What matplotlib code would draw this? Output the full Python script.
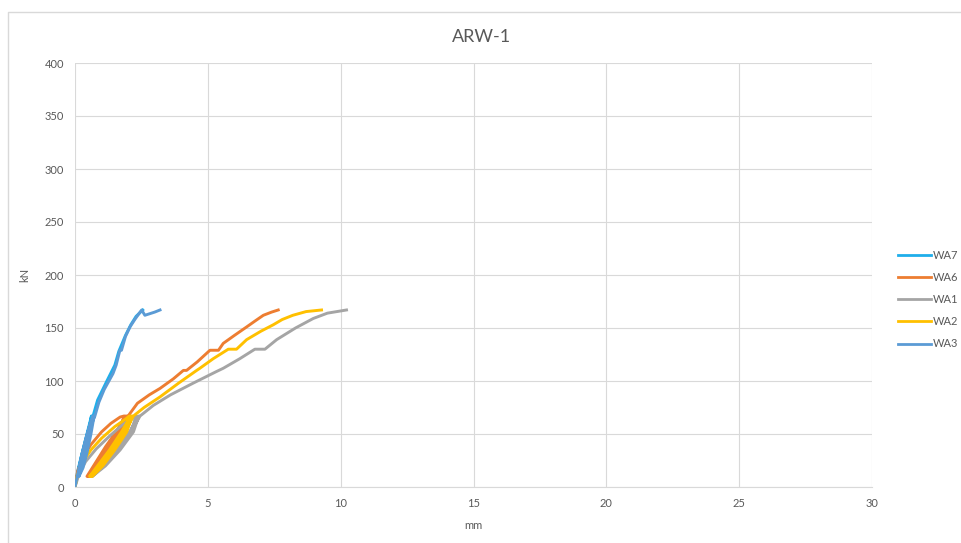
import matplotlib
matplotlib.use("Agg")
import matplotlib.pyplot as plt
from matplotlib.lines import Line2D

plt.rcParams['font.family'] = ['Lato', 'DejaVu Sans']

title = "ARW-1"
x_label = "mm"
y_label = "kN"
x_ticks = [0, 5, 10, 15, 20, 25, 30]
y_ticks = [0, 50, 100, 150, 200, 250, 300, 350, 400]

# Displacement (mm) / load (kN) histories, including unload-reload cycles
wa7_x = [0, 0.1, 0.3, 0.5, 0.62,
         0.5, 0.35, 0.2, 0.08,
         0.25, 0.42, 0.55, 0.66,
         0.55, 0.4, 0.25, 0.1,
         0.28, 0.45, 0.58, 0.68,
         0.85, 1.2, 1.5, 1.65, 1.9, 2.1, 2.3, 2.55]
wa7_y = [0, 15, 35, 55, 67,
         50, 32, 18, 10,
         30, 46, 58, 67,
         50, 32, 18, 10,
         30, 46, 58, 67,
         82, 100, 115, 128, 143, 153, 161, 167]

wa6_x = [0, 0.1, 0.3, 0.6, 1.0, 1.35, 1.7, 1.85,
         1.7, 1.35, 0.9, 0.45,
         0.75, 1.15, 1.55, 1.9,
         1.75, 1.4, 0.95, 0.5,
         0.85, 1.2, 1.6, 1.95,
         1.8, 1.45, 1.0, 0.55,
         0.9, 1.3, 1.65, 2.0,
         2.35, 2.8, 3.2, 3.7, 4.08, 4.2, 4.6, 5.08, 5.4, 5.58,
         6.0, 6.46, 6.8, 7.09, 7.4, 7.65]
wa6_y = [0, 15, 28, 40, 52, 60, 66, 67,
         55, 38, 22, 10,
         22, 38, 52, 67,
         55, 38, 22, 10,
         24, 38, 54, 67,
         55, 38, 22, 10,
         24, 40, 55, 67,
         79, 87, 93, 102, 110, 110, 118, 129, 129, 135.5,
         143, 151, 157, 162, 165, 167]

wa1_x = [0, 0.15, 0.4, 0.8, 1.3, 1.8, 2.3,
         2.1, 1.6, 1.1, 0.6,
         1.0, 1.55, 2.05, 2.4,
         2.2, 1.7, 1.15, 0.65,
         1.05, 1.6, 2.1, 2.45,
         2.95, 3.6, 4.45, 5.33, 5.58, 6.2, 6.77, 7.15, 7.59,
         8.3, 8.97, 9.5, 10.22]
wa1_y = [0, 12, 24, 36, 48, 59, 67,
         52, 35, 20, 10,
         20, 36, 52, 67,
         52, 35, 20, 10,
         20, 36, 52, 67,
         77, 87, 98, 109, 112, 121, 130, 130, 139,
         150, 159, 164, 167]

wa2_x = [0, 0.1, 0.3, 0.6, 1.0, 1.5, 1.9, 2.05,
         1.85, 1.4, 0.95, 0.55,
         0.85, 1.3, 1.75, 2.1,
         1.9, 1.45, 1.0, 0.6,
         0.9, 1.35, 1.8, 2.15,
         1.95, 1.5, 1.05, 0.65,
         0.95, 1.45, 1.9, 2.2,
         2.6, 3.2, 3.9, 4.58, 4.7, 5.2, 5.77, 6.08, 6.46,
         7.0, 7.46, 7.8, 8.2, 8.7, 9.28]
wa2_y = [0, 12, 24, 35, 46, 57, 64, 67,
         52, 35, 20, 10,
         20, 35, 52, 67,
         52, 35, 20, 10,
         20, 35, 52, 67,
         52, 35, 20, 10,
         20, 36, 53, 67,
         75, 85, 98, 110, 112, 121, 130, 130, 139,
         147, 153, 158, 162, 165.5, 167]

wa3_x = [0, 0.1, 0.25, 0.4, 0.55, 0.68,
         0.55, 0.4, 0.25, 0.12,
         0.3, 0.45, 0.6, 0.72,
         0.6, 0.45, 0.3, 0.15,
         0.33, 0.5, 0.63, 0.75,
         0.9, 1.1, 1.43, 1.55, 1.69, 1.75, 1.9, 2.07, 2.25, 2.45,
         2.51, 2.63, 3.0, 3.2]
wa3_y = [0, 12, 30, 45, 58, 67,
         50, 32, 18, 10,
         30, 46, 60, 67,
         50, 32, 18, 10,
         30, 47, 60, 67,
         80, 92, 107, 115, 129, 129, 142, 151, 158, 165,
         167, 162, 165, 167]

series_names = ["WA7", "WA6", "WA1", "WA2", "WA3"]
series_x = [wa7_x, wa6_x, wa1_x, wa2_x, wa3_x]
series_y = [wa7_y, wa6_y, wa1_y, wa2_y, wa3_y]
series_colors = ["#1FAEEA", "#ED7D31", "#A5A5A5", "#FFC000", "#5B9BD5"]

W, H = 962, 543
fig = plt.figure(figsize=(W / 100, H / 100), dpi=100)
fig.patch.set_facecolor("white")

# outer chart frame
frame = Line2D([8 / W, 8 / W, 1.0], [0.0, 1 - 12 / H, 1 - 12 / H],
               transform=fig.transFigure, color="#D9D9D9", lw=1.0)
fig.add_artist(frame)

ax = fig.add_axes([75 / W, 56 / H, (872 - 75) / W, (487 - 63) / H])
ax.set_xlim(0, 30)
ax.set_ylim(0, 400)
ax.set_xticks(x_ticks)
ax.set_yticks(y_ticks)
ax.grid(True, color="#D9D9D9", lw=0.8)
ax.set_axisbelow(True)
for s in ["top", "right", "left"]:
    ax.spines[s].set_visible(False)
ax.spines["bottom"].set_color("#D9D9D9")
ax.spines["bottom"].set_linewidth(0.8)
ax.tick_params(length=0, labelsize=8, labelcolor="#595959", pad=8)

for name, xs, ys, c in zip(series_names, series_x, series_y, series_colors):
    ax.plot(xs, ys, color=c, lw=2.1, label=name, solid_joinstyle="round")

ax.set_xlabel(x_label, fontsize=8, color="#595959", labelpad=8)
ax.set_ylabel(y_label, fontsize=8, color="#595959", labelpad=10)
fig.text(482 / W, 1 - 37 / H, title, ha="center", va="center",
         fontsize=13, color="#595959")

handles = [Line2D([0], [0], color=c, lw=2.0) for c in series_colors]
fig.legend(handles, series_names, loc="upper left",
           bbox_to_anchor=(888 / W, 1 - 240 / H), frameon=False,
           fontsize=8, labelcolor="#595959", handlelength=3.0,
           handletextpad=0.1, labelspacing=1.0)

fig.savefig("out.png", dpi=100)
